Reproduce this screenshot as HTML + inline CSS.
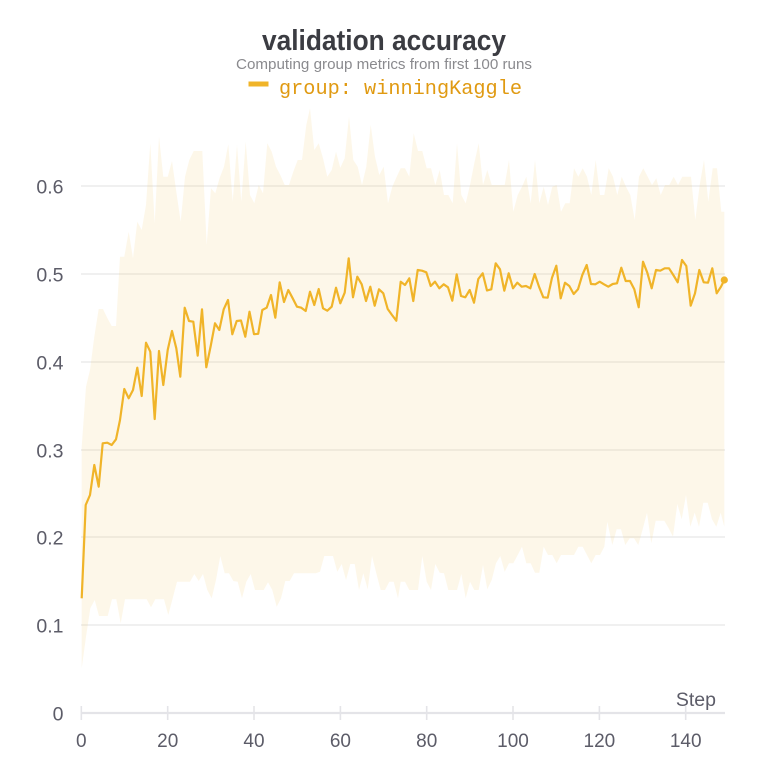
<!DOCTYPE html>
<html><head><meta charset="utf-8"><style>
html,body{margin:0;padding:0;background:#fff;}
svg{display:block;}
</style></head><body>
<svg width="768" height="768" viewBox="0 0 768 768" xmlns="http://www.w3.org/2000/svg">
<rect width="768" height="768" fill="#fff"/>
<!-- gridlines -->
<g stroke="#ececec" stroke-width="1.5">
<line x1="81" y1="186" x2="725" y2="186"/>
<line x1="81" y1="274" x2="725" y2="274"/>
<line x1="81" y1="362" x2="725" y2="362"/>
<line x1="81" y1="450" x2="725" y2="450"/>
<line x1="81" y1="537" x2="725" y2="537"/>
<line x1="81" y1="625" x2="725" y2="625"/>
</g>
<!-- band -->
<polygon fill="#f0b429" fill-opacity="0.1" points="
81.7,446.7 86,386.7 90,370 94.3,336.7 98.7,309 103,309 107.3,318 111.7,326 116,326 120,256.7 124.3,256.7 128.7,231.7 133,258.3 137.3,221.7 141.7,230 146,205 150.3,143.3 154.7,223.3 159,136.7 163.3,176.7 167.7,176.7 172,161 176.3,191.7 180.7,221.7 185,176.7 189.3,160 193.7,151 198,151 202.3,151 206.7,245 211,188.3 215.3,193.3 219.7,177.7 224,166.7 228.3,144.3 232.7,201.7 237,145 241.3,201.7 245.7,141.7 250,195 254.3,203.3 258.7,185 263,193.3 267.3,143.3 271.7,151.7 276,166.7 280.3,175 284.7,185 289,185 293.3,171.7 297.7,160 302,160 306.3,125 310,108.3 314.3,150 318.7,143.3 323,158.3 327.3,176.7 331.7,170 336,151.7 340.3,167.7 344.7,158.3 349,116.7 353.3,160 357.7,166.7 362,185 366.3,166.7 370.7,125 375,156.7 379.3,175 383.7,166.7 388,203.3 392.3,186.7 396.7,176.7 400.7,168.3 405,168.3 409.3,176.7 413.7,133.3 418,151 422.3,151 426.7,168.3 431,168.3 435.3,185 439.7,170 444,195 448.3,195 452.7,203.3 457,143.3 461.3,195 465.7,203.3 470,185 474.3,163.3 478.7,143.3 483,185 487.3,170 491.7,185 496,185 500.3,185 504.7,185 509,160 513.3,211.7 517.7,195 522,186.7 526.3,176.7 530.7,203.3 535,160 539.3,203.3 543.7,186.7 548,205 552.3,186.7 556.7,185 561,211.7 565.3,203.3 569.7,203.3 574,168.3 578.3,176.7 582.7,168.3 587,176.7 591.3,195 595.7,160 600,195 604.3,195 608.7,168.3 613,176.7 617.3,195 621.7,176.7 626,186.7 630.3,195 634.7,220 639,176.7 643.3,168.3 647.7,176.7 652,185 656.3,178.3 660.7,195 665,185 669.3,185 673.7,176.7 678,185 682.3,176.7 686.7,176.7 691,176.7 695.3,220 699.7,185 704,160 708.3,201.7 712.7,168.3 717,168.3 721.3,211.7 724.3,211.7
724.3,526.7 720.7,512.7 716.3,526.7 712,519.3 707.7,502.7 703.3,502.7 699,526.7 694.7,512.7 690.3,526.7 686,495 681.7,519.3 677.3,504 673,536.7 668.7,528.3 664.3,520.7 660,520.7 655.7,520.7 651.3,543.3 647,512.7 642.7,529.3 638.3,545 634,538.3 629.7,538.3 625.3,545 621,529.3 616.7,529.3 612.3,545 607.3,521.7 604.3,546.7 600,555 595.7,555 591.3,563.3 587,555 582.7,546.7 578.3,546.7 574,555 569.7,555 565.3,555 561,555 556.7,563.3 552.3,555 548,555 543.7,546.7 539.3,572.7 535,572.7 530.7,563.3 526.3,563.3 522,546.7 517.7,555 513.3,563.3 509,563.3 504.7,571.7 500.3,556 496,563.3 491.7,580 487.3,589.3 483,565 478.7,590 474.3,590 470,581.7 465.7,598.3 461.3,574 457,590 452.7,590 448.3,590 444,573.3 439.7,572.7 435.3,564 431,590 426.7,581.7 422.3,556 418,590 413.7,590 409.3,590 405,581.7 400.7,581.7 398,598.3 393.7,581.7 389.3,581.7 385,590 380.7,590 376.3,573.3 372,556 367.7,589.3 363.3,573.3 359,590 354.7,564 350.3,564 346,580 341.7,564 337.3,571.7 333,556 328.7,556 324.3,556 320,571.7 315.7,573.3 311.3,573.3 307,573.3 302.7,573.3 298.3,573.3 294,573.3 289.7,581 285.3,581 281,598.3 276.7,606.7 272.3,590 268,582.3 263.7,590 259.3,590 255,590 250.7,574 246.3,581.7 242,598.3 237.7,581.7 233.3,581 229,573.3 224.7,573.3 220.3,556 216,580 211.7,598.3 207.3,590 203,574 198.7,581 194.3,574 190,581.7 185.7,581.7 181.3,581.7 177,581.7 172.7,598.3 168.3,615 164,599.3 159.7,599.3 155.3,599.3 151,607.3 146.7,599.3 142.3,599.3 138,599.3 133.7,599.3 129.3,599.3 125,599.3 120.7,623.3 116.3,599.3 112,599.3 107.7,616 103.3,616 99,616 94.7,600 90.3,608.3 86,636.7 81.7,668.3"/>
<!-- axis -->
<line x1="81" y1="713" x2="725" y2="713" stroke="#e4e4e8" stroke-width="2.2"/>
<g stroke="#e4e4e8" stroke-width="1.6">
<line x1="81.3" y1="706" x2="81.3" y2="720"/>
<line x1="167.7" y1="706" x2="167.7" y2="720"/>
<line x1="254" y1="706" x2="254" y2="720"/>
<line x1="340.4" y1="706" x2="340.4" y2="720"/>
<line x1="426.7" y1="706" x2="426.7" y2="720"/>
<line x1="513" y1="706" x2="513" y2="720"/>
<line x1="599.4" y1="706" x2="599.4" y2="720"/>
<line x1="685.7" y1="706" x2="685.7" y2="720"/>
</g>
<!-- line -->
<polyline fill="none" stroke="#f0b429" stroke-width="2.2" stroke-linejoin="round" points="81.7,598.3 85.7,505 90,495 94.3,465 98.7,486.7 102.7,443.3 107.3,442.7 111.7,445 116,439.3 120,420 124.3,389 128.7,398.3 133,390 137.3,367.7 141.7,396 146,342.7 150.3,351.7 154.7,419 159,351 163.3,385 167.7,350 172,331 176.3,348.3 180.3,376.7 184.7,307.7 189,321 193.3,321.7 197.7,355.7 202,309.3 206.3,367.3 210.7,346 215,323.3 219.3,330 223.7,309.3 228,300 232.3,334.3 236.7,321 241,320.5 245.3,336.7 249.5,311.7 254,334.2 258.2,333.8 262.3,310 266.7,307.7 271,295 275.3,317.7 279.7,282.3 284,302 288.3,290 292.7,298.3 297,306.7 301.3,307.7 305.7,311 310,291.7 314.3,305 318.7,289 323,308.3 327.3,310.7 331.7,306.7 336,287.7 340.3,303.3 344.7,292.7 348.7,258.3 353,297.3 357.3,276.7 361.7,284.3 366,301 370.3,286.7 374.7,305.7 379,289.3 383.3,293.3 387.7,309 392,315 396.3,320.7 400.7,281.7 405,285 409.3,278.3 413.3,301 417.7,270 422,270.7 426.3,272.3 430.7,286 435,281.7 439.3,288.3 443.7,284.3 448,287.3 452.3,300.7 456.7,274.3 461,296 465.3,297.3 469.7,290 474,302.7 478.3,279 482.7,273.3 487,290.5 491.3,289.3 495.7,263.3 500,269.3 504.3,290.7 508.7,273.3 513,288.3 517.3,282.7 521.7,286.7 526,286 530.3,288.3 534.7,274 539,286.7 543.3,297.3 547.7,297.7 552,277.7 556.3,265.7 560.7,298.3 565,282.7 569.3,286 573.7,294 578,289.3 582.3,275 586.7,265 591,284 595.3,284.3 599.7,281.7 604,284.3 608.3,286.7 612.7,284 617,283.3 621.3,267.7 625.7,281 630,281 634.3,289.3 638.7,307.3 643,261.7 647.3,272.7 651.7,288.3 656,270 660.3,270.7 664.7,268.3 669,268.3 673.3,275 677.7,282.3 682,260 686.3,266 690.7,305.7 695,293.3 699.3,270 703.7,282.3 708,282.7 712.3,268.3 716.7,293.3 721,286.7 724.3,280"/>
<circle cx="724.3" cy="280" r="3.6" fill="#f0b429"/>
<!-- y labels -->
<g font-family="Liberation Sans, sans-serif" font-size="19.5" fill="#5c5c68" text-anchor="end">
<text x="63.5" y="193.5">0.6</text>
<text x="63.5" y="281.5">0.5</text>
<text x="63.5" y="369.5">0.4</text>
<text x="63.5" y="457.5">0.3</text>
<text x="63.5" y="544.5">0.2</text>
<text x="63.5" y="632.5">0.1</text>
<text x="63.5" y="720.7">0</text>
</g>
<!-- x labels -->
<g font-family="Liberation Sans, sans-serif" font-size="19" fill="#5c5c68" text-anchor="middle">
<text x="81.3" y="747">0</text>
<text x="167.7" y="747">20</text>
<text x="254" y="747">40</text>
<text x="340.4" y="747">60</text>
<text x="426.7" y="747">80</text>
<text x="513" y="747">100</text>
<text x="599.4" y="747">120</text>
<text x="685.7" y="747">140</text>
</g>
<text x="716" y="706" font-family="Liberation Sans, sans-serif" font-size="19.5" fill="#5c5c68" text-anchor="end">Step</text>
<!-- title -->
<text x="262" y="50" font-family="Liberation Sans, sans-serif" font-size="28.5" font-weight="bold" fill="#3b3c42" textLength="244" lengthAdjust="spacingAndGlyphs">validation accuracy</text>
<text x="236" y="69" font-family="Liberation Sans, sans-serif" font-size="15" fill="#8a8a8e" textLength="296" lengthAdjust="spacingAndGlyphs">Computing group metrics from first 100 runs</text>
<rect x="248.5" y="81.5" width="20" height="5" fill="#f0b429"/>
<text x="279" y="94" font-family="Liberation Mono, monospace" font-size="20" fill="#e09a12" textLength="243" lengthAdjust="spacingAndGlyphs">group: winningKaggle</text>
</svg>
</body></html>
